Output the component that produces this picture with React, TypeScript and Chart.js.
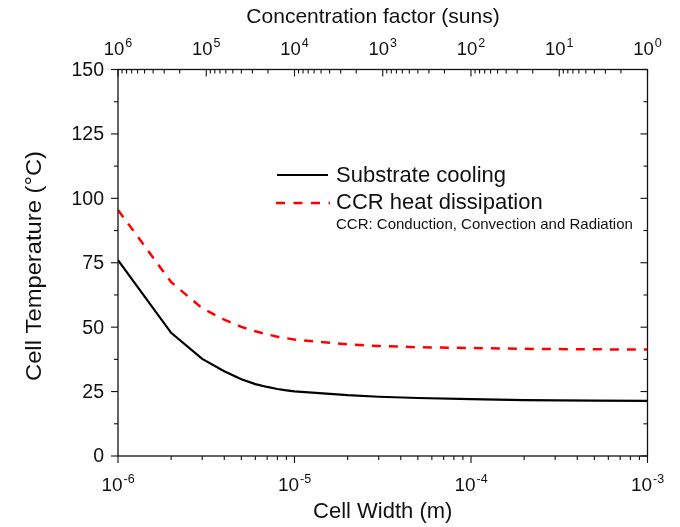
import React, { useEffect, useRef } from "react";
import { Chart, registerables } from "chart.js";
Chart.register(...registerables);

// ---- data ----
const cellWidths = [1e-6, 2e-6, 3e-6, 4e-6, 5e-6, 6e-6, 7e-6, 8e-6, 9e-6, 1e-5, 2e-5, 3e-5, 5e-5, 1e-4, 2e-4, 5e-4, 1e-3];
const substrateCooling = [76, 47.8, 37.7, 32.9, 29.8, 27.9, 26.8, 26.0, 25.5, 25.1, 23.6, 23.0, 22.5, 22.1, 21.7, 21.5, 21.4];
const ccrDissipation = [95.5, 67.5, 57.3, 52.9, 50.1, 48.4, 47.2, 46.3, 45.7, 45.2, 43.3, 42.7, 42.2, 41.9, 41.6, 41.4, 41.3];
const widthTickExps = [-6, -5, -4, -3];
const concTickExps = [6, 5, 4, 3, 2, 1, 0];
const tempTicks = [0, 25, 50, 75, 100, 125, 150];
const seriesNames = ["Substrate cooling", "CCR heat dissipation"];
const legendNote = "CCR: Conduction, Convection and Radiation";
const xTitle = "Cell Width (m)";
const x2Title = "Concentration factor (suns)";
const yTitle = "Cell Temperature (°C)";

const FONT = "'Liberation Sans', Arial, Helvetica, sans-serif";
const INK = "#111";

const decorPlugin = {
  id: "decor",
  afterDraw(chart: any) {
    const { ctx, chartArea: a, scales } = chart;
    const x = scales.x, x2 = scales.x2, y = scales.y;
    ctx.save();
    ctx.strokeStyle = INK;
    ctx.fillStyle = INK;
    // frame
    ctx.lineWidth = 1.3;
    ctx.strokeRect(a.left, a.top, a.right - a.left, a.bottom - a.top);
    ctx.lineWidth = 1.1;
    const line = (x0: number, y0: number, x1: number, y1: number) => {
      ctx.beginPath();
      ctx.moveTo(x0, y0);
      ctx.lineTo(x1, y1);
      ctx.stroke();
    };
    const MAJ = 7, MIN = 4;
    // bottom ticks (outward)
    for (let e = -6; e <= -3; e++) {
      const px = x.getPixelForValue(Math.pow(10, e));
      line(px, a.bottom, px, a.bottom + MAJ);
      if (e < -3) {
        for (let k = 2; k <= 9; k++) {
          const p = x.getPixelForValue(k * Math.pow(10, e));
          line(p, a.bottom, p, a.bottom + MIN);
        }
      }
    }
    // top ticks (inward)
    for (let e = 0; e <= 6; e++) {
      const px = x2.getPixelForValue(Math.pow(10, e));
      line(px, a.top, px, a.top + MAJ);
      if (e < 6) {
        for (let k = 2; k <= 9; k++) {
          const p = x2.getPixelForValue(k * Math.pow(10, e));
          line(p, a.top, p, a.top + MIN);
        }
      }
    }
    // left (outward) & right (inward) ticks
    for (let v = 0; v <= 150; v += 12.5) {
      const py = y.getPixelForValue(v);
      const len = v % 25 === 0 ? MAJ : MIN;
      line(a.left - len, py, a.left, py);
      line(a.right - len, py, a.right, py);
    }

    // power-of-ten labels
    const drawPow = (cx: number, baseline: number, exp: string, base: number) => {
      ctx.font = `${base}px ${FONT}`;
      const wb = ctx.measureText("10").width;
      ctx.font = `12.5px ${FONT}`;
      const we = ctx.measureText(exp).width;
      const total = wb + 1 + we;
      const left = cx - total / 2;
      ctx.textAlign = "left";
      ctx.textBaseline = "alphabetic";
      ctx.font = `${base}px ${FONT}`;
      ctx.fillText("10", left, baseline);
      ctx.font = `12.5px ${FONT}`;
      ctx.fillText(exp, left + wb + 1, baseline - 8);
    };
    widthTickExps.forEach((e) => drawPow(x.getPixelForValue(Math.pow(10, e)), 491, String(e), 19));
    concTickExps.forEach((e) => drawPow(x2.getPixelForValue(Math.pow(10, e)), 55, String(e), 18.5));

    // y tick labels
    ctx.font = `19.5px ${FONT}`;
    ctx.textAlign = "right";
    ctx.textBaseline = "middle";
    tempTicks.forEach((v) => ctx.fillText(String(v), 104, y.getPixelForValue(v) + 1));

    // titles
    ctx.textBaseline = "alphabetic";
    ctx.textAlign = "center";
    ctx.font = `22px ${FONT}`;
    ctx.fillText(xTitle, (a.left + a.right) / 2, 518);
    ctx.font = `21px ${FONT}`;
    ctx.fillText(x2Title, 373, 23);
    ctx.save();
    ctx.translate(41, 266);
    ctx.rotate(-Math.PI / 2);
    ctx.scale(1.08, 1);
    ctx.font = `22px ${FONT}`;
    ctx.fillText(yTitle, 0, 0);
    ctx.restore();

    // legend
    ctx.lineWidth = 2;
    ctx.strokeStyle = "#000";
    line(277, 175, 328, 175);
    ctx.strokeStyle = "#ff0000";
    ctx.lineWidth = 2.5;
    ctx.setLineDash([9, 8.5]);
    line(276, 203, 330, 203);
    ctx.setLineDash([]);
    ctx.textAlign = "left";
    ctx.font = `22px ${FONT}`;
    ctx.fillStyle = INK;
    ctx.fillText(seriesNames[0], 336, 182);
    ctx.fillText(seriesNames[1], 336, 209);
    ctx.font = `15px ${FONT}`;
    ctx.fillText(legendNote, 336, 229);
    ctx.restore();
  },
};

export default function App() {
  const ref = useRef<HTMLCanvasElement | null>(null);
  useEffect(() => {
    if (!ref.current) return;
    const chart = new Chart(ref.current, {
      type: "line",
      data: {
        datasets: [
          {
            label: seriesNames[0],
            data: cellWidths.map((w, i) => ({ x: w, y: substrateCooling[i] })),
            borderColor: "#000",
            borderWidth: 2.2,
            pointRadius: 0,
            tension: 0,
            xAxisID: "x",
            yAxisID: "y",
          },
          {
            label: seriesNames[1],
            data: cellWidths.map((w, i) => ({ x: w, y: ccrDissipation[i] })),
            borderColor: "#ff0000",
            borderWidth: 2.5,
            borderDash: [9, 8],
            pointRadius: 0,
            tension: 0,
            xAxisID: "x",
            yAxisID: "y",
          },
        ],
      },
      options: {
        responsive: false,
        animation: false,
        layout: { padding: { left: 118, right: 32.5, top: 69.5, bottom: 71 } },
        plugins: { legend: { display: false }, tooltip: { enabled: false } },
        scales: {
          x: { type: "logarithmic", position: "bottom", min: 1e-6, max: 1e-3, display: false },
          x2: { type: "logarithmic", position: "top", min: 1, max: 1e6, reverse: true, display: false },
          y: { type: "linear", position: "left", min: 0, max: 150, display: false },
        },
      },
      plugins: [decorPlugin],
    });
    return () => chart.destroy();
  }, []);
  return (
    <div style={{ position: "fixed", left: 0, top: 0, width: 680, height: 527, background: "#fff" }}>
      <canvas ref={ref} width={680} height={527} style={{ width: 680, height: 527 }} />
    </div>
  );
}
